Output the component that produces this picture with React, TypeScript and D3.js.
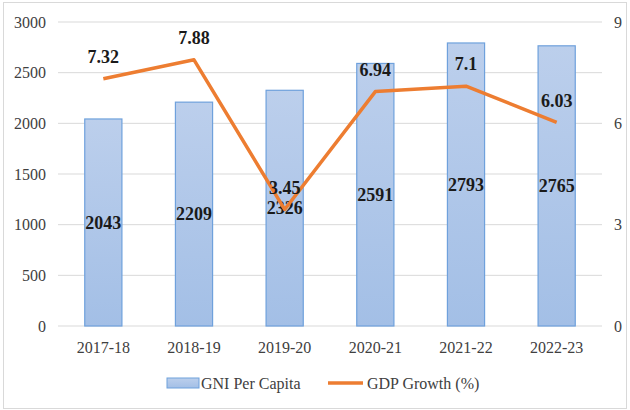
import React, { useEffect, useRef } from 'react'
import * as d3 from 'd3'

const years = ['2017-18', '2018-19', '2019-20', '2020-21', '2021-22', '2022-23']
const gniPerCapita = [2043, 2209, 2326, 2591, 2793, 2765]
const gdpGrowth = [7.32, 7.88, 3.45, 6.94, 7.1, 6.03]
const leftTicks = [0, 500, 1000, 1500, 2000, 2500, 3000]
const rightTicks = [0, 3, 6, 9]

export default function App() {
    const ref = useRef<SVGSVGElement>(null)

    useEffect(() => {
        const svg = d3.select(ref.current)
        svg.selectAll('*').remove()
        const width = 630
        const height = 410
        const left = 58
        const right = 602
        const top = 22
        const bottom = 326
        const font = 'Liberation Serif, DejaVu Serif, serif'

        const xScale = d3.scaleBand<string>()
            .domain(years)
            .range([left, right])
            .paddingInner(0.59)
            .paddingOuter(0.295)
        const yLeft = d3.scaleLinear().domain([0, 3000]).range([bottom, top])
        const yRight = d3.scaleLinear().domain([0, 9]).range([bottom, top])

        // outer frame
        svg.append('rect')
            .attr('x', 3.5).attr('y', 2.5)
            .attr('width', width - 7).attr('height', height - 4)
            .attr('fill', 'white')
            .attr('stroke', '#d9d9d9')

        const defs = svg.append('defs')
        const grad = defs.append('linearGradient')
            .attr('id', 'barGrad')
            .attr('x1', 0).attr('y1', 0).attr('x2', 0).attr('y2', 1)
        grad.append('stop').attr('offset', '0%').attr('stop-color', '#bccfec')
        grad.append('stop').attr('offset', '100%').attr('stop-color', '#a3bfe6')

        // gridlines
        svg.append('g')
            .selectAll('line')
            .data(leftTicks)
            .enter()
            .append('line')
            .attr('x1', left).attr('x2', right)
            .attr('y1', d => yLeft(d)).attr('y2', d => yLeft(d))
            .attr('stroke', '#d9d9d9')
            .attr('stroke-width', 1)

        // left axis labels
        svg.append('g')
            .selectAll('text')
            .data(leftTicks)
            .enter()
            .append('text')
            .attr('x', 46)
            .attr('y', d => yLeft(d))
            .attr('dy', '0.35em')
            .attr('text-anchor', 'end')
            .attr('font-family', font)
            .attr('font-size', 16)
            .attr('fill', '#404040')
            .text(d => d)

        // right axis labels
        svg.append('g')
            .selectAll('text')
            .data(rightTicks)
            .enter()
            .append('text')
            .attr('x', 614)
            .attr('y', d => yRight(d))
            .attr('dy', '0.35em')
            .attr('text-anchor', 'start')
            .attr('font-family', font)
            .attr('font-size', 16)
            .attr('fill', '#404040')
            .text(d => d)

        // bars
        svg.append('g')
            .selectAll('rect')
            .data(years)
            .enter()
            .append('rect')
            .attr('x', d => xScale(d)!)
            .attr('y', (d, i) => yLeft(gniPerCapita[i]))
            .attr('width', xScale.bandwidth())
            .attr('height', (d, i) => bottom - yLeft(gniPerCapita[i]))
            .attr('fill', 'url(#barGrad)')
            .attr('stroke', '#6fa1dc')
            .attr('stroke-width', 1.2)

        // x labels
        svg.append('g')
            .selectAll('text')
            .data(years)
            .enter()
            .append('text')
            .attr('x', d => xScale(d)! + xScale.bandwidth() / 2)
            .attr('y', 347)
            .attr('dy', '0.35em')
            .attr('text-anchor', 'middle')
            .attr('font-family', font)
            .attr('font-size', 16)
            .attr('fill', '#404040')
            .text(d => d)

        // bar value labels (centered in bar)
        svg.append('g')
            .selectAll('text')
            .data(years)
            .enter()
            .append('text')
            .attr('x', d => xScale(d)! + xScale.bandwidth() / 2)
            .attr('y', (d, i) => (yLeft(gniPerCapita[i]) + bottom) / 2)
            .attr('dy', '0.35em')
            .attr('text-anchor', 'middle')
            .attr('font-family', font)
            .attr('font-size', 18)
            .attr('font-weight', 'bold')
            .attr('fill', '#1a1a1a')
            .text((d, i) => gniPerCapita[i])

        // gdp line
        const line = d3.line<number>()
            .x((d, i) => xScale(years[i])! + xScale.bandwidth() / 2)
            .y(d => yRight(d))
        svg.append('path')
            .datum(gdpGrowth)
            .attr('d', line)
            .attr('fill', 'none')
            .attr('stroke', '#ed7d31')
            .attr('stroke-width', 3.5)
            .attr('stroke-linejoin', 'round')

        // line labels
        svg.append('g')
            .selectAll('text')
            .data(gdpGrowth)
            .enter()
            .append('text')
            .attr('x', (d, i) => xScale(years[i])! + xScale.bandwidth() / 2)
            .attr('y', d => yRight(d) - 22)
            .attr('dy', '0.35em')
            .attr('text-anchor', 'middle')
            .attr('font-family', font)
            .attr('font-size', 18)
            .attr('font-weight', 'bold')
            .attr('fill', '#1a1a1a')
            .text(d => d)

        // legend
        const legend = svg.append('g')
        legend.append('rect')
            .attr('x', 167).attr('y', 378)
            .attr('width', 32).attr('height', 10)
            .attr('fill', 'url(#barGrad)')
            .attr('stroke', '#6fa1dc')
        legend.append('text')
            .attr('x', 201).attr('y', 383)
            .attr('dy', '0.35em')
            .attr('font-family', font)
            .attr('font-size', 16)
            .attr('fill', '#404040')
            .text('GNI Per Capita')
        legend.append('line')
            .attr('x1', 328).attr('x2', 363)
            .attr('y1', 383).attr('y2', 383)
            .attr('stroke', '#ed7d31')
            .attr('stroke-width', 3.5)
        legend.append('text')
            .attr('x', 367).attr('y', 383)
            .attr('dy', '0.35em')
            .attr('font-family', font)
            .attr('font-size', 16)
            .attr('fill', '#404040')
            .text('GDP Growth (%)')
    }, [])

    return (
        <svg ref={ref} width={630} height={410}
            style={{ position: 'absolute', left: 0, top: 0, background: 'white' }}></svg>
    )
}
